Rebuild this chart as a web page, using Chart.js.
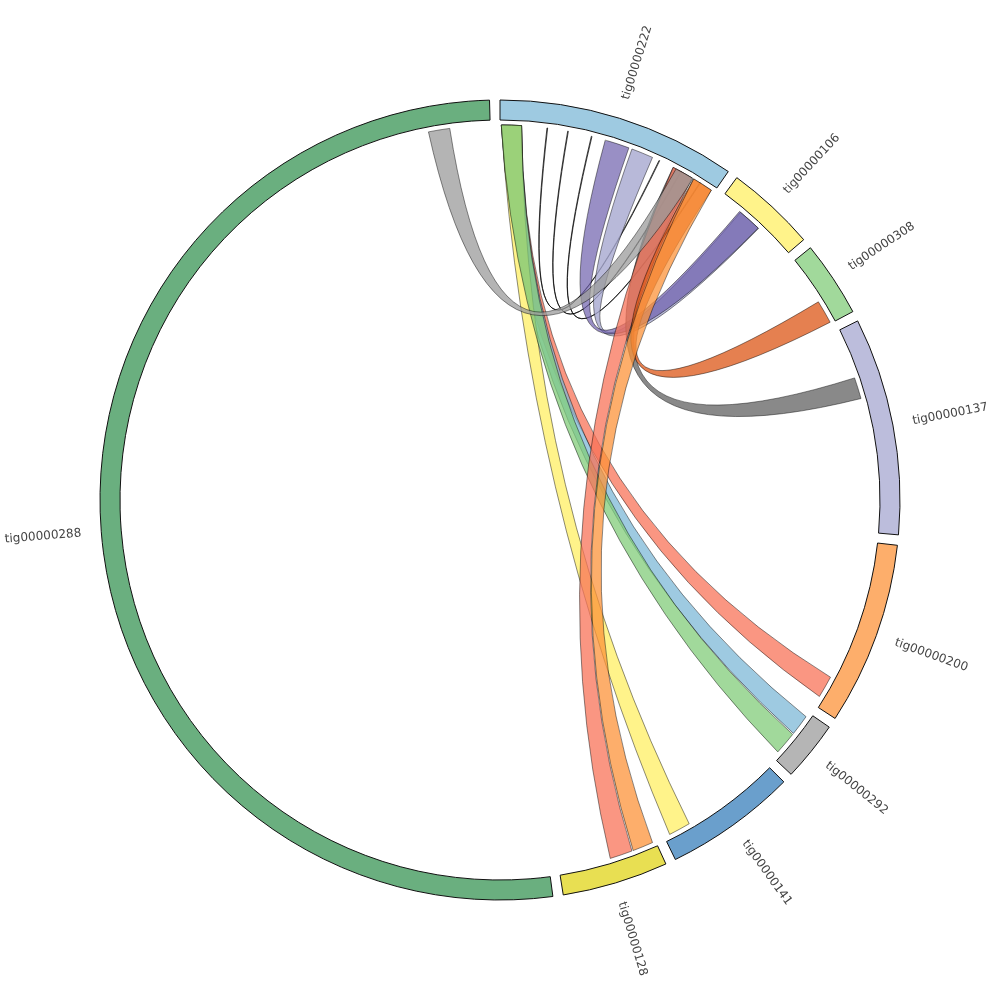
<!DOCTYPE html>
<html>
<head>
<meta charset="utf-8">
<title>contig links</title>
<script src="https://cdn.jsdelivr.net/npm/chart.js@4.4.0/dist/chart.umd.min.js"></script>
<style>
  html, body { margin: 0; padding: 0; background: #fff; }
  #chord { display: block; }
</style>
</head>
<body>
<canvas id="chord" width="1000" height="1000"></canvas>
<script>
// contigs, clockwise from the top (sizes are relative lengths)
var contigs = ['tig00000222', 'tig00000106', 'tig00000308', 'tig00000137', 'tig00000200',
               'tig00000292', 'tig00000141', 'tig00000128', 'tig00000288'];
var contigSizes = [34.8, 13.1, 11.0, 31.6, 26.6, 8.7, 19.2, 15.4, 186.1];
var contigColors = ['#9ecae1', '#fff38a', '#a1d99b', '#bcbddc', '#fdae6b',
                    '#b5b5b5', '#6a9fcc', '#e8df52', '#6aaf7f'];
var gapSize = 1.5;

// links, positions are offsets inside each contig (same units as contigSizes)
var linkFrom      = ['tig00000222', 'tig00000222', 'tig00000222', 'tig00000222', 'tig00000222', 'tig00000222', 'tig00000222',
                     'tig00000222', 'tig00000222', 'tig00000222', 'tig00000222', 'tig00000288', 'tig00000222', 'tig00000222'];
var linkFromStart = [0.2, 0.2, 0.2, 0.2, 7.2, 10.4, 14.1, 20.6, 16.3, 27.5, 27.5, 176.6, 31.1, 31.1];
var linkFromEnd   = [3.3, 3.3, 3.3, 3.3, 7.3, 10.5, 14.2, 24.0, 20.1, 30.8, 30.8, 179.9, 34.3, 34.3];
var linkTo        = ['tig00000200', 'tig00000292', 'tig00000141', 'tig00000292', 'tig00000222', 'tig00000222', 'tig00000222',
                     'tig00000106', 'tig00000106', 'tig00000137', 'tig00000128', 'tig00000222', 'tig00000308', 'tig00000128'];
var linkToStart   = [21.7, 0.7, 14.9, 4.1, 25.1, 28.8, 32.2, 3.6, 3.4, 7.6, 3.9, 28.0, 7.2, 0.5];
var linkToEnd     = [25.1, 3.9, 18.3, 7.6, 25.2, 28.9, 32.3, 7.3, 7.2, 10.9, 7.4, 31.0, 10.8, 3.7];
var linkColors    = ['rgba(248,115,88,0.75)', 'rgba(126,184,215,0.75)', 'rgba(255,239,99,0.75)', 'rgba(130,204,122,0.75)',
                     'rgba(0,0,0,0)', 'rgba(0,0,0,0)', 'rgba(0,0,0,0)',
                     'rgba(166,167,208,0.8)', 'rgba(110,96,172,0.7)', 'rgba(98,98,98,0.75)', 'rgba(248,115,88,0.75)',
                     'rgba(155,155,155,0.75)', 'rgba(220,86,22,0.75)', 'rgba(252,147,58,0.75)'];

// ring = contigs with an empty slice after each one
var ringData = [];
var ringColors = [];
var ringBorders = [];
contigs.forEach(function(name, i){
  ringData.push(contigSizes[i]);
  ringColors.push(contigColors[i]);
  ringBorders.push(1);
  ringData.push(gapSize);
  ringColors.push('rgba(0,0,0,0)');
  ringBorders.push(0);
});

var chordPlugin = {
  id: 'chords',
  afterDatasetsDraw: function(chart){
    var ctx = chart.ctx;
    var arcs = chart.getDatasetMeta(0).data;
    var cx = arcs[0].x, cy = arcs[0].y;
    var r = arcs[0].innerRadius - 5;
    var pull = 26;

    var angleAt = function(contig, offset){
      var i = contigs.indexOf(contig);
      var arc = arcs[i * 2];
      return arc.startAngle + (arc.endAngle - arc.startAngle) * offset / contigSizes[i];
    };
    var ctrl = function(a, b){
      var ux = Math.cos(a) + Math.cos(b), uy = Math.sin(a) + Math.sin(b);
      var len = Math.sqrt(ux * ux + uy * uy) || 1;
      return [cx + pull * ux / len, cy + pull * uy / len];
    };

    ctx.save();
    for (var k = 0; k < linkFrom.length; k++) {
      var s0 = angleAt(linkFrom[k], linkFromStart[k]);
      var s1 = angleAt(linkFrom[k], linkFromEnd[k]);
      var t0 = angleAt(linkTo[k], linkToStart[k]);
      var t1 = angleAt(linkTo[k], linkToEnd[k]);
      var c1 = ctrl(s1, t0), c2 = ctrl(t1, s0);
      ctx.beginPath();
      ctx.arc(cx, cy, r, s0, s1);
      ctx.quadraticCurveTo(c1[0], c1[1], cx + r * Math.cos(t0), cy + r * Math.sin(t0));
      ctx.arc(cx, cy, r, t0, t1);
      ctx.quadraticCurveTo(c2[0], c2[1], cx + r * Math.cos(s0), cy + r * Math.sin(s0));
      ctx.closePath();
      ctx.fillStyle = linkColors[k];
      ctx.fill();
      // the hairline links are only an outline
      var thin = (linkFromEnd[k] - linkFromStart[k]) < 0.5;
      ctx.lineWidth = thin ? 0.8 : 0.6;
      ctx.strokeStyle = thin ? 'rgba(0,0,0,0.9)' : 'rgba(0,0,0,0.75)';
      ctx.stroke();
    }

    // contig names, radial, reading outwards
    ctx.font = '12px "DejaVu Sans", sans-serif';
    ctx.fillStyle = '#444';
    ctx.textBaseline = 'middle';
    contigs.forEach(function(name, i){
      var arc = arcs[i * 2];
      var mid = (arc.startAngle + arc.endAngle) / 2;
      var lr = arc.outerRadius + 20;
      ctx.save();
      ctx.translate(cx + lr * Math.cos(mid), cy + lr * Math.sin(mid));
      if (Math.cos(mid) >= 0) {
        ctx.rotate(mid);
        ctx.textAlign = 'left';
      } else {
        ctx.rotate(mid + Math.PI);
        ctx.textAlign = 'right';
      }
      ctx.fillText(name, 0, 0);
      ctx.restore();
    });
    ctx.restore();
  }
};

var ctx = document.getElementById('chord').getContext('2d');
var chord = new Chart(ctx, {
  type: 'doughnut',
  data: {
    labels: contigs.reduce(function(acc, n){ acc.push(n, ''); return acc; }, []),
    datasets: [{
      data: ringData,
      backgroundColor: ringColors,
      borderColor: '#111',
      borderWidth: ringBorders,
      hoverOffset: 0
    }]
  },
  options: {
    responsive: false,
    animation: false,
    devicePixelRatio: 1,
    events: [],
    radius: 400,
    cutout: '95%',
    layout: { padding: 0 },
    plugins: {
      legend: { display: false },
      tooltip: { enabled: false },
      title: { display: false }
    }
  },
  plugins: [chordPlugin]
});
</script>
</body>
</html>
